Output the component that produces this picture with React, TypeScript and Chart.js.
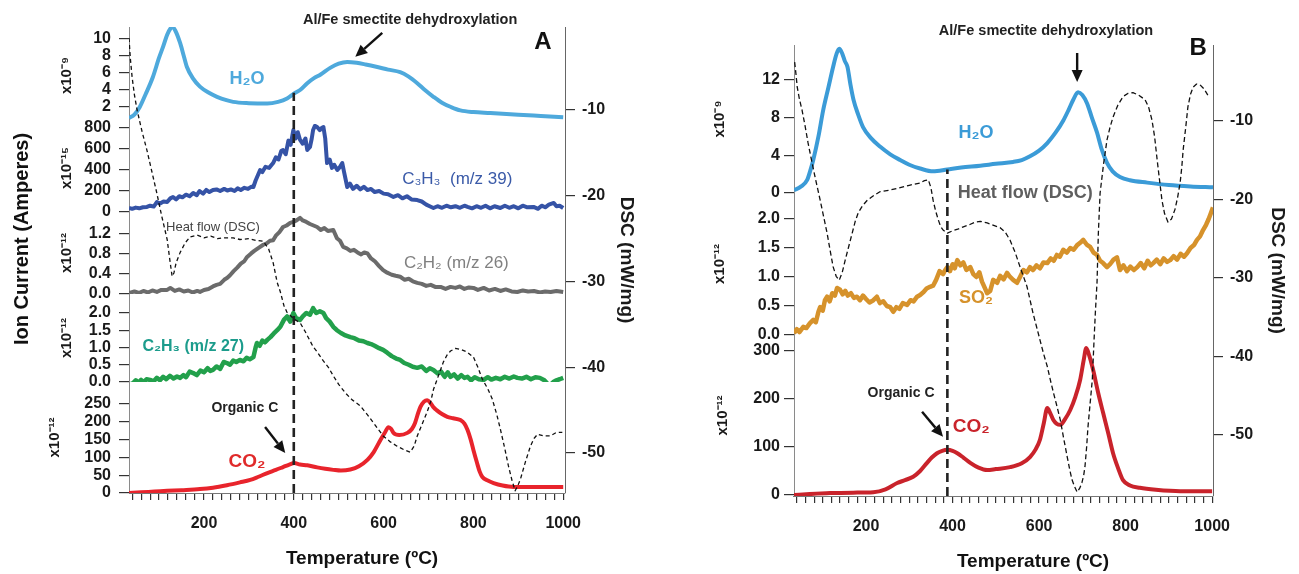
import React, { useEffect, useRef } from 'react';
import { Chart, registerables } from 'chart.js';

Chart.register(...registerables);

const FONT = '"Liberation Sans", Arial, Helvetica, sans-serif';

// ---------------- shared axis values ----------------
const xLabelTicks = [200, 400, 600, 800, 1000];
const xMinorStep = 20;
const dscTicks = [-50, -40, -30, -20, -10];

// ---------------- Panel A data (temperature ºC, value) ----------------
const aH2OTicks = [2, 4, 6, 8, 10];
const aC3H3Ticks = [0, 200, 400, 600, 800];
const aC2H2Ticks = [0, 0.4, 0.8, 1.2];
const aC2H3Ticks = [0, 0.5, 1.0, 1.5, 2.0];
const aCO2Ticks = [0, 50, 100, 150, 200, 250];

const aH2O = [[33,0.7],[45,1.1],[57,2.0],[70,3.5],[86,5.5],[100,7.8],[109,9.1],[118,10.5],[125,11.2],[130,11.4],[136,11.0],[147,9.5],[155,8.0],[162,6.7],[175,5.4],[191,4.4],[210,3.7],[229,3.2],[250,2.8],[265,2.6],[300,2.45],[341,2.4],[365,2.6],[385,3.0],[401,3.6],[414,4.0],[430,4.8],[445,5.4],[459,5.8],[481,6.6],[500,7.1],[519,7.3],[540,7.2],[560,7.0],[586,6.7],[610,6.4],[637,6.1],[655,5.6],[675,4.8],[692,4.0],[711,3.2],[730,2.5],[750,2.0],[771,1.6],[800,1.4],[838,1.3],[900,1.1],[950,0.95],[1000,0.8]];

const aC3H3 = [[33,38],[40,30],[48,42],[56,35],[64,45],[73,48],[80,60],[88,52],[95,95],[102,80],[110,100],[118,95],[125,130],[131,143],[138,120],[145,150],[152,140],[160,165],[168,150],[176,181],[184,160],[190,200],[198,175],[205,210],[212,190],[220,209],[228,215],[236,200],[245,220],[252,205],[260,215],[268,200],[275,225],[282,210],[290,230],[298,220],[305,240],[310,238],[315,300],[320,350],[325,400],[330,380],[337,430],[345,420],[354,466],[360,520],[366,500],[372,580],[376,590],[382,550],[388,680],[393,640],[399,781],[404,700],[409,760],[414,686],[420,650],[426,700],[430,590],[436,619],[440,700],[443,781],[447,820],[452,809],[458,780],[462,800],[466,809],[470,700],[474,466],[480,500],[485,420],[490,450],[497,400],[503,430],[508,466],[512,380],[519,238],[525,270],[532,220],[540,250],[548,215],[556,240],[564,209],[572,220],[580,190],[590,200],[600,175],[610,170],[622,143],[632,160],[642,130],[652,150],[662,120],[675,114],[685,100],[695,70],[705,50],[711,38],[720,55],[730,40],[740,60],[750,45],[760,55],[770,40],[780,60],[787,48],[797,35],[807,55],[817,40],[827,60],[837,35],[847,55],[860,38],[870,60],[880,40],[890,55],[900,35],[910,60],[920,45],[934,48],[944,30],[952,60],[960,45],[968,70],[979,86],[985,55],[992,60],[1000,38]];

const aC2H2 = [[33,0.02],[45,0.05],[55,0.02],[65,0.06],[75,0.03],[85,0.07],[95,0.04],[105,0.08],[118,0.08],[125,0.12],[135,0.06],[145,0.09],[155,0.05],[165,0.07],[175,0.03],[185,0.06],[191,0.04],[200,0.08],[210,0.1],[220,0.15],[228,0.18],[236,0.2],[245,0.28],[252,0.32],[258,0.37],[266,0.45],[274,0.52],[282,0.6],[290,0.65],[296,0.73],[305,0.8],[312,0.85],[320,0.9],[332,0.97],[340,1.0],[347,1.05],[354,1.06],[360,1.15],[368,1.22],[376,1.32],[384,1.35],[392,1.4],[399,1.42],[406,1.45],[414,1.5],[420,1.45],[428,1.42],[436,1.38],[444,1.35],[452,1.32],[460,1.26],[468,1.3],[476,1.24],[488,1.26],[496,1.1],[503,1.05],[510,0.93],[518,0.9],[526,0.85],[534,0.87],[542,0.82],[550,0.78],[557,0.82],[564,0.8],[572,0.7],[580,0.65],[590,0.55],[599,0.47],[608,0.42],[618,0.38],[627,0.36],[637,0.34],[647,0.28],[656,0.3],[665,0.25],[675,0.22],[685,0.2],[695,0.16],[705,0.18],[715,0.14],[727,0.14],[738,0.1],[749,0.14],[760,0.12],[770,0.15],[780,0.1],[790,0.13],[800,0.12],[810,0.08],[823,0.12],[835,0.07],[848,0.1],[860,0.06],[872,0.09],[885,0.05],[898,0.04],[910,0.07],[922,0.05],[935,0.06],[948,0.03],[960,0.05],[972,0.04],[985,0.06],[1000,0.04]];

const aC2H3 = [[33,-0.17],[38,-0.05],[42,-0.03],[48,0.05],[54,-0.02],[60,0.06],[66,0.0],[72,0.08],[80,0.06],[88,0.02],[95,0.12],[102,0.05],[109,0.15],[116,0.08],[124,0.18],[132,0.1],[140,0.16],[147,0.12],[154,0.2],[160,0.14],[168,0.3],[176,0.26],[184,0.2],[192,0.33],[200,0.28],[208,0.4],[214,0.32],[220,0.35],[228,0.45],[236,0.38],[244,0.58],[251,0.55],[258,0.5],[265,0.62],[272,0.58],[280,0.64],[288,0.6],[295,0.7],[302,0.66],[310,0.72],[315,1.0],[318,1.13],[324,1.05],[330,1.2],[336,1.15],[341,1.22],[348,1.3],[355,1.4],[363,1.5],[370,1.6],[378,1.8],[385,1.9],[392,1.75],[399,2.0],[405,1.85],[414,1.8],[420,1.9],[428,2.0],[436,1.95],[443,2.14],[450,2.0],[458,2.05],[466,2.0],[472,1.85],[480,1.75],[488,1.6],[496,1.5],[505,1.42],[515,1.35],[526,1.3],[535,1.27],[545,1.2],[555,1.18],[564,1.13],[572,1.1],[580,1.05],[590,0.98],[599,0.93],[608,0.85],[618,0.75],[628,0.68],[637,0.64],[646,0.55],[656,0.5],[665,0.44],[675,0.41],[685,0.45],[695,0.32],[703,0.4],[711,0.35],[720,0.25],[728,0.3],[736,0.15],[743,0.28],[749,0.15],[757,0.22],[765,0.1],[773,0.2],[780,0.12],[787,0.15],[795,0.05],[803,0.14],[812,0.08],[823,0.06],[832,0.14],[840,0.07],[850,0.12],[860,0.08],[870,0.15],[880,0.1],[890,0.16],[898,0.12],[908,0.1],[918,0.15],[928,0.08],[938,0.14],[948,0.12],[958,0.05],[965,-0.05],[971,-0.09],[978,0.0],[985,0.05],[992,0.08],[1000,0.12]];

const aCO2 = [[33,0],[60,2],[90,4],[118,6],[150,8],[191,11],[220,15],[251,22],[280,30],[303,37],[320,45],[341,56],[360,65],[376,73],[390,80],[401,84],[414,80],[430,78],[452,72],[470,68],[488,65],[505,63],[526,66],[545,75],[564,93],[578,115],[593,149],[603,170],[611,185],[617,180],[622,169],[635,163],[653,169],[663,180],[670,197],[677,225],[682,242],[690,257],[697,261],[705,252],[712,240],[718,233],[730,222],[742,214],[755,210],[771,205],[780,195],[787,177],[794,150],[800,121],[808,85],[814,60],[820,45],[832,35],[845,28],[865,21],[889,17],[950,17],[1000,17]];

const aDSC = [[33,-1.6],[36,-4],[40,-6.2],[45,-8.2],[51,-10],[62,-12.5],[73,-14.7],[84,-17.2],[95,-19.7],[106,-22.4],[118,-25.1],[124,-27.5],[129,-29.4],[133,-29.0],[138,-27.8],[147,-26.6],[158,-25.5],[169,-24.8],[185,-24.6],[200,-24.9],[215,-24.7],[230,-25.0],[245,-24.9],[265,-24.9],[280,-25.1],[300,-25.0],[315,-25.2],[332,-25.3],[344,-26.2],[354,-27.8],[363,-30.1],[370,-31.2],[378,-32.8],[385,-33.6],[393,-34.0],[401,-34.4],[414,-34.8],[425,-35.8],[435,-36.8],[443,-37.6],[452,-38.2],[465,-39.2],[477,-40],[488,-41],[500,-42],[515,-43],[530,-43.8],[548,-44.5],[565,-45.6],[582,-46.8],[599,-48],[615,-48.7],[630,-49.2],[645,-49.6],[659,-49.9],[668,-49.2],[675,-48],[686,-46.6],[697,-45.2],[705,-44],[711,-42.6],[722,-41],[733,-39.4],[741,-38.6],[749,-38.1],[760,-37.8],[771,-37.9],[785,-38.2],[800,-38.8],[810,-40.0],[820,-41.4],[832,-42.5],[842,-43.7],[852,-45.5],[860,-47.2],[870,-49.5],[878,-51.5],[886,-53.2],[893,-54.4],[899,-53.8],[905,-53],[916,-51],[927,-49.2],[935,-48.3],[943,-47.8],[957,-48.0],[971,-48],[985,-47.6],[998,-47.6]];

const aMarker = [[400,-54.66],[400,-8.0]];

// ---------------- Panel B data ----------------
const bH2OTicks = [0, 4, 8, 12];
const bSO2Ticks = [0, 0.5, 1.0, 1.5, 2.0];
const bCO2Ticks = [0, 100, 200, 300];

const bH2O = [[33.5,0.3],[50,0.7],[64,1.4],[72,2.5],[78,3.5],[90,6.0],[101,8.8],[113,11.2],[124,13.4],[132,14.8],[138,15.3],[145,14.8],[151,14.0],[157,13.4],[164,11.5],[171,9.9],[182,8.3],[193,7.0],[212,5.8],[233,4.9],[256,4.1],[279,3.5],[300,3.0],[325,2.6],[355,2.3],[388,2.5],[420,2.7],[464,2.9],[500,3.1],[540,3.3],[560,3.5],[579,3.9],[600,4.5],[619,5.3],[638,6.4],[656,7.7],[668,8.8],[679,9.9],[690,10.7],[700,10.4],[711,9.5],[722,8.0],[734,6.4],[745,4.6],[757,3.2],[770,2.3],[787,1.7],[810,1.35],[850,1.1],[900,0.85],[950,0.7],[1002,0.6]];

const bSO2 = [[33.5,0.03],[40,0.1],[46,0.05],[55,0.14],[62,0.12],[70,0.2],[78,0.26],[84,0.22],[90,0.4],[94,0.48],[100,0.42],[105,0.6],[110,0.66],[116,0.58],[122,0.72],[128,0.68],[133,0.81],[140,0.78],[146,0.7],[152,0.76],[158,0.68],[165,0.72],[172,0.64],[179,0.66],[186,0.6],[193,0.68],[200,0.62],[208,0.56],[217,0.6],[225,0.66],[232,0.55],[240,0.58],[248,0.5],[256,0.48],[263,0.4],[270,0.48],[277,0.45],[285,0.55],[295,0.52],[303,0.6],[310,0.58],[318,0.66],[325,0.69],[333,0.74],[340,0.8],[348,0.83],[355,0.85],[362,0.95],[370,1.1],[378,1.05],[383,1.12],[388,1.17],[394,1.1],[400,1.22],[405,1.15],[411,1.29],[418,1.2],[425,1.25],[432,1.12],[441,1.17],[448,1.05],[455,1.0],[462,1.08],[468,0.92],[474,0.82],[480,0.72],[487,0.76],[494,0.95],[503,0.9],[510,1.02],[518,0.96],[526,1.07],[533,1.0],[540,0.95],[549,0.9],[556,1.0],[564,1.12],[572,1.08],[579,1.17],[586,1.12],[594,1.2],[602,1.15],[610,1.25],[619,1.24],[627,1.32],[634,1.28],[641,1.38],[648,1.35],[656,1.47],[664,1.42],[672,1.5],[680,1.47],[688,1.55],[695,1.59],[702,1.64],[710,1.56],[718,1.52],[726,1.42],[734,1.38],[741,1.28],[748,1.24],[757,1.17],[764,1.22],[772,1.3],[780,1.34],[787,1.12],[795,1.2],[803,1.1],[811,1.18],[819,1.12],[827,1.17],[835,1.24],[843,1.15],[851,1.28],[858,1.2],[864,1.24],[872,1.3],[880,1.22],[888,1.32],[896,1.26],[903,1.29],[911,1.36],[919,1.3],[927,1.4],[935,1.35],[942,1.41],[950,1.5],[958,1.55],[965,1.64],[972,1.7],[979,1.81],[986,1.9],[992,2.0],[997,2.1],[1002,2.2]];

const bCO2 = [[33.5,0],[70,2],[117,4],[170,5],[217,6],[245,12],[272,25],[290,31],[309,38],[325,50],[341,67],[352,78],[364,87],[376,92],[388,94],[400,92],[411,87],[425,78],[441,67],[460,57],[480,52],[500,54],[533,58],[560,66],[579,79],[592,95],[602,115],[611,150],[619,181],[626,170],[633,156],[641,148],[649,146],[660,158],[672,177],[684,205],[695,240],[703,280],[709,306],[716,290],[725,260],[736,215],[748,171],[760,128],[771,87],[783,55],[794,31],[810,20],[833,15],[870,11],[926,8],[1000,8]];

const bDSC = [[35,-2.5],[38,-4],[41,-5.7],[46,-7.2],[52,-8.6],[59,-10.6],[66,-12.8],[74,-15],[82,-17.1],[88,-18.6],[94,-20.1],[102,-22.2],[110,-24.3],[117,-26.5],[124,-28.6],[131,-29.8],[138,-30.3],[145,-29.3],[152,-27.7],[160,-26],[168,-24.3],[175,-22.8],[182,-21.7],[192,-20.8],[203,-20.1],[218,-19.5],[233,-19],[256,-18.8],[279,-18.5],[300,-18.2],[325,-17.9],[335,-17.6],[344,-17.5],[350,-18.5],[355,-20.1],[361,-21.5],[367,-22.6],[372,-23.4],[378,-23.9],[388,-24.3],[400,-24.0],[412,-23.8],[425,-23.5],[440,-23.2],[452,-22.9],[464,-22.8],[480,-23.0],[495,-23.3],[510,-23.6],[522,-24.2],[533,-25.2],[545,-26.8],[556,-28.6],[565,-30],[572,-31.1],[579,-32.8],[586,-34.5],[594,-36.2],[602,-37.9],[610,-39.6],[619,-41.3],[626,-43],[633,-44.6],[641,-46.3],[649,-48.1],[657,-50.5],[665,-52.8],[671,-54.5],[676,-55.7],[682,-56.6],[688,-57.3],[694,-56.8],[699,-56.1],[703,-55.2],[706,-54.1],[710,-51.5],[713,-49],[718,-46],[723,-43],[727,-38],[730,-34.5],[734,-30.5],[737,-24.3],[741,-19.2],[749,-15.5],[757,-12.4],[764,-10.8],[771,-9.5],[782,-8.0],[794,-6.9],[805,-6.5],[817,-6.4],[830,-6.7],[845,-7.3],[853,-8.2],[861,-9.9],[867,-12],[873,-15],[879,-17.8],[884,-20.1],[890,-21.8],[898,-22.9],[906,-22.5],[914,-21.3],[920,-19.8],[926,-17.9],[930,-15.8],[933,-13.7],[939,-10.8],[944,-8.2],[950,-6.6],[956,-5.7],[964,-5.3],[972,-5.4],[981,-5.9],[990,-6.7]];

const bMarker = [[388,-57.8],[388,-16.2]];

// ---------------- helpers ----------------
const xy = (arr: number[][]) => arr.map(([x, y]) => ({ x, y }));

function xMinorTicks(lo: number, hi: number) {
  const out: number[] = [];
  for (let v = Math.ceil(lo / xMinorStep) * xMinorStep; v <= hi; v += xMinorStep) out.push(v);
  return out;
}

function leftAxis(o: any) {
  return {
    type: 'linear',
    position: 'left',
    stack: 'ion',
    stackWeight: o.stackWeight,
    weight: o.weight,
    min: o.min,
    max: o.max,
    afterBuildTicks: (s: any) => { s.ticks = o.ticks.map((v: number) => ({ value: v })); },
    afterFit: (s: any) => { s.width = o.width; },
    grid: { display: true, drawOnChartArea: false, drawTicks: true, tickLength: 10, color: '#333', lineWidth: 1.2 },
    border: { display: true, color: '#8a8a8a', width: 1 },
    ticks: {
      autoSkip: false,
      padding: o.tickPad,
      color: '#1a1a1a',
      font: { family: FONT, size: 16, weight: 'bold' },
      callback: (v: number) => o.fmt(v),
    },
    title: {
      display: true,
      text: o.title,
      color: '#1a1a1a',
      font: { family: FONT, size: 15, weight: 'bold' },
      padding: { top: o.titlePad, bottom: 0 },
    },
  };
}

function xAxis(min: number, max: number, height: number, pad: number) {
  return {
    type: 'linear',
    position: 'bottom',
    min,
    max,
    afterBuildTicks: (s: any) => { s.ticks = xMinorTicks(min, max).map((v) => ({ value: v })); },
    afterFit: (s: any) => { s.height = height; },
    grid: { display: true, drawOnChartArea: false, drawTicks: true, tickLength: 7, color: '#333', lineWidth: 1.2 },
    border: { display: true, color: '#777', width: 1 },
    ticks: {
      autoSkip: false,
      maxRotation: 0,
      minRotation: 0,
      padding: pad,
      color: '#1a1a1a',
      font: { family: FONT, size: 16, weight: 'bold' },
      callback: (v: number) => (xLabelTicks.includes(v) ? String(v) : ''),
    },
  };
}

function dscAxis(min: number, max: number, width: number, titlePad: number) {
  return {
    type: 'linear',
    position: 'right',
    min,
    max,
    afterBuildTicks: (s: any) => { s.ticks = dscTicks.map((v) => ({ value: v })); },
    afterFit: (s: any) => { s.width = width; },
    grid: { display: true, drawOnChartArea: false, drawTicks: true, tickLength: 10, color: '#333', lineWidth: 1.2 },
    border: { display: true, color: '#666', width: 1 },
    ticks: {
      autoSkip: false,
      padding: 7,
      color: '#1a1a1a',
      font: { family: FONT, size: 16, weight: 'bold' },
    },
    title: {
      display: true,
      text: 'DSC (mW/mg)',
      color: '#1a1a1a',
      font: { family: FONT, size: 19, weight: 'bold' },
      padding: { top: titlePad, bottom: 0 },
    },
  };
}

function line(data: number[][], yAxisID: string, color: string, width: number, smooth: boolean, dash?: number[]) {
  return {
    data: xy(data),
    yAxisID,
    xAxisID: 'x',
    borderColor: color,
    backgroundColor: color,
    borderWidth: width,
    pointRadius: 0,
    fill: false,
    tension: smooth ? 0.4 : 0,
    cubicInterpolationMode: smooth ? 'monotone' : 'default',
    borderDash: dash || [],
    borderCapStyle: 'butt',
    borderJoinStyle: 'round',
  };
}

function annotations(items: any[]) {
  return {
    id: 'annots',
    afterDraw(chart: any) {
      const { ctx } = chart;
      const xs = chart.scales.x;
      const ys = chart.scales.dsc;
      for (const a of items) {
        ctx.save();
        if (a.type === 'text') {
          const px = xs.getPixelForValue(a.T);
          const py = ys.getPixelForValue(a.d);
          ctx.translate(px, py);
          if (a.rotate) ctx.rotate(a.rotate);
          ctx.font = `${a.weight || 'bold'} ${a.size}px ${FONT}`;
          ctx.fillStyle = a.color;
          ctx.textAlign = 'center';
          ctx.textBaseline = 'middle';
          ctx.fillText(a.text, 0, 0);
        } else {
          const x1 = xs.getPixelForValue(a.T1), y1 = ys.getPixelForValue(a.d1);
          const x2 = xs.getPixelForValue(a.T2), y2 = ys.getPixelForValue(a.d2);
          const ang = Math.atan2(y2 - y1, x2 - x1);
          const hl = 12, hw = 5.5;
          const bx = x2 - hl * Math.cos(ang), by = y2 - hl * Math.sin(ang);
          ctx.strokeStyle = '#111';
          ctx.fillStyle = '#111';
          ctx.lineWidth = 2.4;
          ctx.beginPath();
          ctx.moveTo(x1, y1);
          ctx.lineTo(bx, by);
          ctx.stroke();
          ctx.beginPath();
          ctx.moveTo(x2, y2);
          ctx.lineTo(bx + hw * Math.sin(ang), by - hw * Math.cos(ang));
          ctx.lineTo(bx - hw * Math.sin(ang), by + hw * Math.cos(ang));
          ctx.closePath();
          ctx.fill();
        }
        ctx.restore();
      }
    },
  };
}

const baseOptions = (scales: any, padding: any) => ({
  responsive: false,
  maintainAspectRatio: false,
  animation: false,
  events: [],
  layout: { padding },
  plugins: { legend: { display: false }, tooltip: { enabled: false }, title: { display: false } },
  scales,
});

// ---------------- chart configs ----------------
function configA() {
  const annots = [
    { type: 'text', T: 659, d: 0.5, text: 'Al/Fe smectite dehydroxylation', color: '#222', size: 14.5 },
    { type: 'arrow', T1: 597, d1: -1.0, T2: 537, d2: -3.8 },
    { type: 'text', T: 955, d: -2.1, text: 'A', color: '#111', size: 24 },
    { type: 'text', T: 296, d: -6.4, text: 'H₂O', color: '#4ea9dc', size: 18 },
    { type: 'text', T: 764, d: -18.05, text: 'C₃H₃  (m/z 39)', color: '#3a5aa8', size: 17, weight: 'normal' },
    { type: 'text', T: 762, d: -27.84, text: 'C₂H₂ (m/z 26)', color: '#808080', size: 17, weight: 'normal' },
    { type: 'text', T: 220, d: -23.64, text: 'Heat flow (DSC)', color: '#444', size: 13, weight: 'normal' },
    { type: 'text', T: 176, d: -37.64, text: 'C₂H₃ (m/z 27)', color: '#1c9c8c', size: 16 },
    { type: 'text', T: 291, d: -44.75, text: 'Organic C', color: '#222', size: 14 },
    { type: 'arrow', T1: 336, d1: -46.97, T2: 381, d2: -50.0 },
    { type: 'text', T: 296, d: -51.05, text: 'CO₂', color: '#e02a2a', size: 19 },
    { type: 'text', T: 552, d: -62.36, text: 'Temperature (ºC)', color: '#111', size: 19 },
    { type: 'text', T: -205, d: -25.04, text: 'Ion Current (Amperes)', color: '#111', size: 20, rotate: -Math.PI / 2 },
  ];
  const scales = {
    x: xAxis(33, 1004, 81, 14),
    dsc: dscAxis(-54.66, -0.32, 85, 12.6),
    yH2O: leftAxis({ stackWeight: 97, weight: 5, min: 0, max: 11.41, ticks: aH2OTicks, fmt: (v: number) => String(v), width: 94, tickPad: 8, title: 'x10⁻⁹', titlePad: 23 }),
    yC3H3: leftAxis({ stackWeight: 88, weight: 4, min: 0, max: 838, ticks: aC3H3Ticks, fmt: (v: number) => String(v), width: 94, tickPad: 8, title: 'x10⁻¹⁵', titlePad: 23 }),
    yC2H2: leftAxis({ stackWeight: 82, weight: 3, min: 0, max: 1.616, ticks: aC2H2Ticks, fmt: (v: number) => v.toFixed(1), width: 94, tickPad: 8, title: 'x10⁻¹²', titlePad: 23 }),
    yC2H3: leftAxis({ stackWeight: 88, weight: 2, min: 0, max: 2.55, ticks: aC2H3Ticks, fmt: (v: number) => v.toFixed(1), width: 94, tickPad: 8, title: 'x10⁻¹²', titlePad: 23 }),
    yCO2: leftAxis({ stackWeight: 111, weight: 1, min: 0, max: 312, ticks: aCO2Ticks, fmt: (v: number) => String(v), width: 94, tickPad: 8, title: 'x10⁻¹²', titlePad: 11 }),
  };
  return {
    type: 'line',
    data: {
      datasets: [
        line(aDSC, 'dsc', '#111', 1.3, false, [4, 3]),
        line(aMarker, 'dsc', '#222', 2.6, false, [9, 5]),
        line(aH2O, 'yH2O', '#4ea9dc', 4, true),
        line(aC3H3, 'yC3H3', '#3553a6', 4, false),
        line(aC2H2, 'yC2H2', '#6b6b6b', 4, false),
        line(aC2H3, 'yC2H3', '#22a04b', 4.5, false),
        line(aCO2, 'yCO2', '#e8242c', 4, true),
      ],
    },
    options: baseOptions(scales, { left: 35, right: 0, top: 27, bottom: 0 }),
    plugins: [annotations(annots)],
  };
}

function configB() {
  const annots = [
    { type: 'text', T: 616, d: 1.46, text: 'Al/Fe smectite dehydroxylation', color: '#222', size: 14.5 },
    { type: 'arrow', T1: 688, d1: -1.34, T2: 688, d2: -5.03 },
    { type: 'text', T: 968, d: -0.7, text: 'B', color: '#111', size: 24 },
    { type: 'text', T: 454, d: -11.53, text: 'H₂O', color: '#3b9bd7', size: 18 },
    { type: 'text', T: 568, d: -19.17, text: 'Heat flow (DSC)', color: '#5f5f5f', size: 18 },
    { type: 'text', T: 454, d: -32.55, text: 'SO₂', color: '#d6922b', size: 18 },
    { type: 'text', T: 281, d: -44.65, text: 'Organic C', color: '#222', size: 14 },
    { type: 'arrow', T1: 329.5, d1: -47.07, T2: 378, d2: -50.26 },
    { type: 'text', T: 443, d: -48.98, text: 'CO₂', color: '#c9232b', size: 19 },
    { type: 'text', T: 586, d: -66.18, text: 'Temperature (ºC)', color: '#111', size: 19 },
  ];
  const scales = {
    x: xAxis(33.5, 1002, 78, 14),
    dsc: dscAxis(-57.8, -0.32, 86, 10.6),
    yH2O: leftAxis({ stackWeight: 148, weight: 3, min: 0, max: 15.71, ticks: bH2OTicks, fmt: (v: number) => String(v), width: 104, tickPad: 4, title: 'x10⁻⁹', titlePad: 21 }),
    ySO2: leftAxis({ stackWeight: 142, weight: 2, min: 0, max: 2.448, ticks: bSO2Ticks, fmt: (v: number) => v.toFixed(1), width: 104, tickPad: 4, title: 'x10⁻¹²', titlePad: 21 }),
    yCO2: leftAxis({ stackWeight: 161, weight: 1, min: -2, max: 333, ticks: bCO2Ticks, fmt: (v: number) => String(v), width: 104, tickPad: 4, title: 'x10⁻¹²', titlePad: 24 }),
  };
  return {
    type: 'line',
    data: {
      datasets: [
        line(bDSC, 'dsc', '#111', 1.3, false, [5, 3]),
        line(bMarker, 'dsc', '#222', 2.6, false, [9, 5]),
        line(bH2O, 'yH2O', '#3b9bd7', 4, true),
        line(bSO2, 'ySO2', '#d6922b', 4.5, false),
        line(bCO2, 'yCO2', '#c9232b', 4, true),
      ],
    },
    options: baseOptions(scales, { left: 40, right: 0, top: 45, bottom: 0 }),
    plugins: [annotations(annots)],
  };
}

function Panel({ make, left, width }: { make: () => any; left: number; width: number }) {
  const ref = useRef<HTMLCanvasElement | null>(null);
  useEffect(() => {
    if (!ref.current) return;
    const chart = new Chart(ref.current, make());
    return () => chart.destroy();
  }, []);
  return (
    <canvas
      ref={ref}
      width={width}
      height={574}
      style={{ position: 'absolute', left, top: 0, width, height: 574, display: 'block' }}
    />
  );
}

export default function App() {
  Chart.defaults.font.family = FONT;
  return (
    <div style={{ position: 'fixed', left: 0, top: 0, width: 1299, height: 574, background: '#fff', overflow: 'hidden' }}>
      <Panel make={configA} left={0} width={650} />
      <Panel make={configB} left={650} width={649} />
    </div>
  );
}
